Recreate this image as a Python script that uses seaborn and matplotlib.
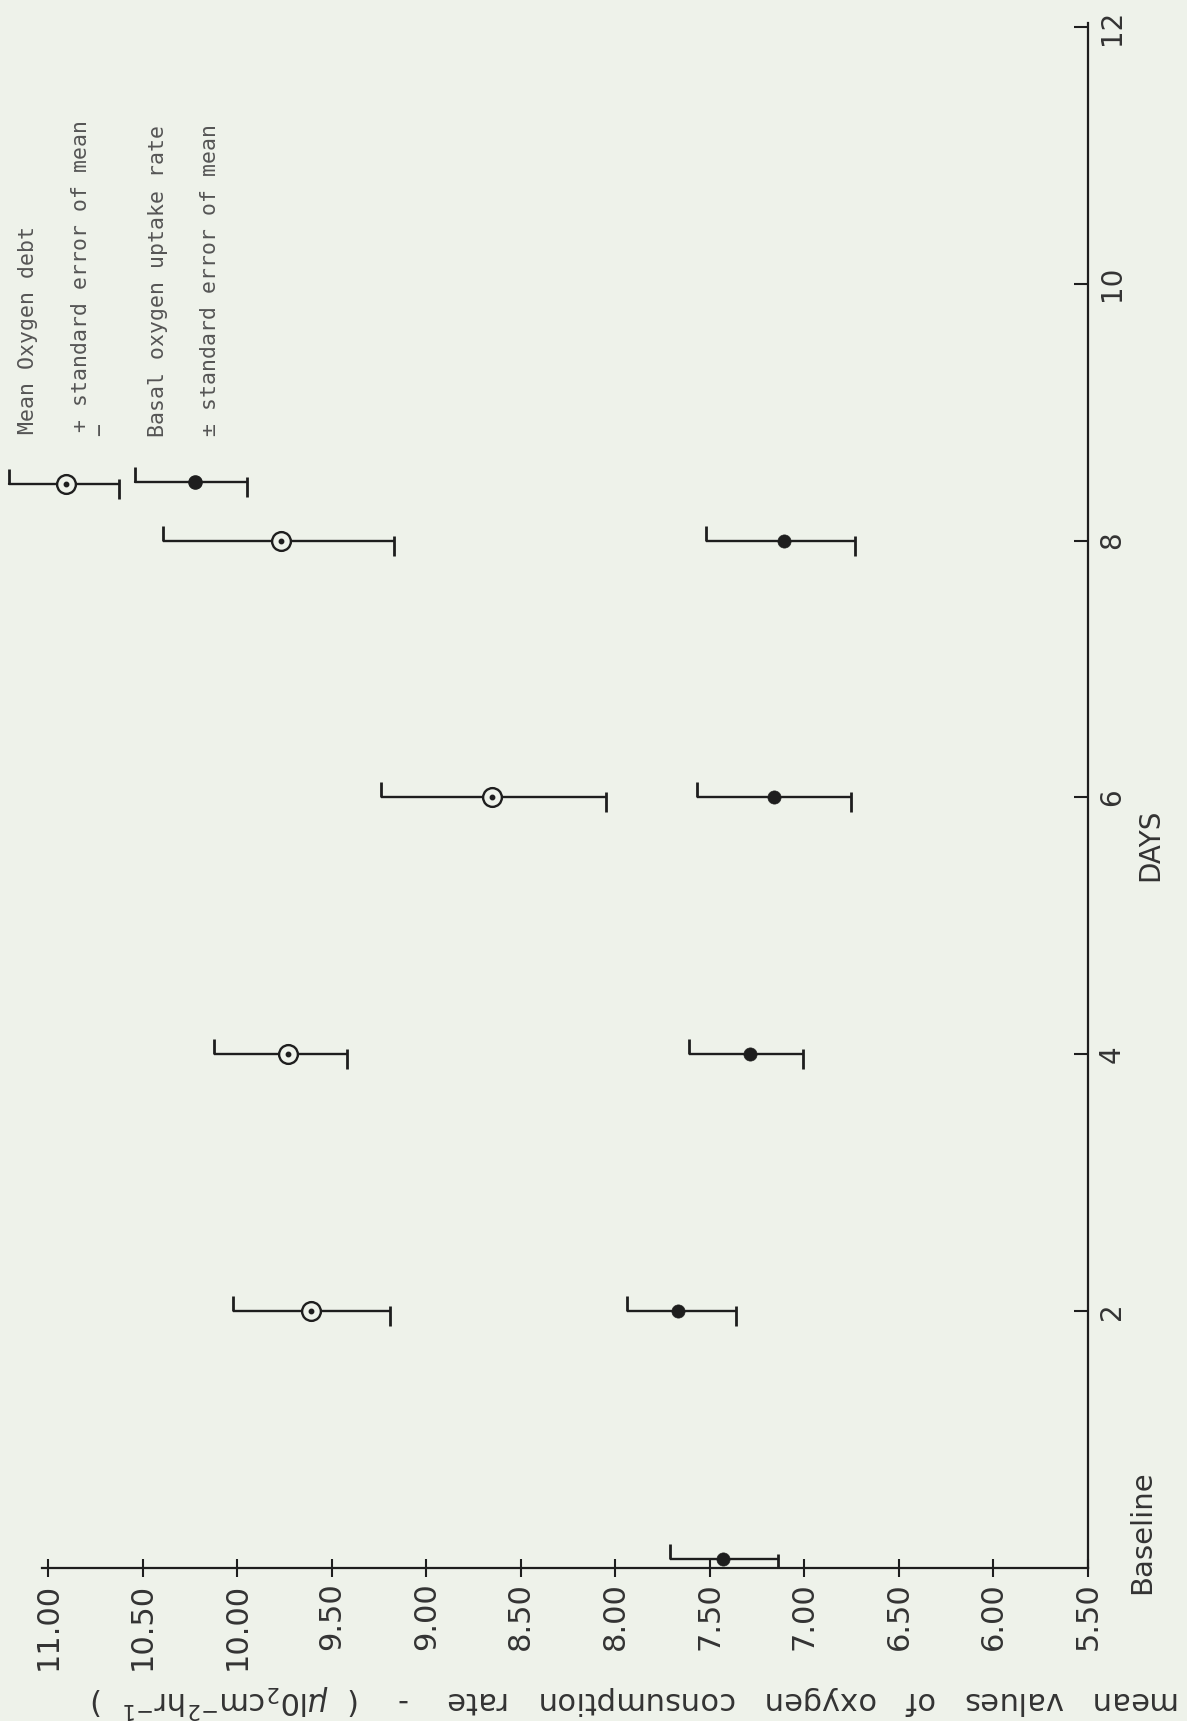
import matplotlib
matplotlib.use("Agg")
import matplotlib.pyplot as plt
import seaborn as sns
from matplotlib.path import Path

# ---------------- data ----------------
days_debt = [2, 4, 6, 8]
debt_mean = [9.61, 9.73, 8.65, 9.77]
debt_upper = [10.02, 10.12, 9.24, 10.39]
debt_lower = [9.19, 9.42, 8.05, 9.17]

days_basal = [0.07, 2, 4, 6, 8]
basal_mean = [7.43, 7.67, 7.29, 7.16, 7.11]
basal_upper = [7.71, 7.94, 7.61, 7.57, 7.52]
basal_lower = [7.14, 7.36, 7.01, 6.755, 6.73]

value_ticks = [11.0, 10.5, 10.0, 9.5, 9.0, 8.5, 8.0, 7.5, 7.0, 6.5, 6.0, 5.5]
value_tick_labels = ["11.00", "10.50", "10.00", "9.50", "9.00", "8.50",
                     "8.00", "7.50", "7.00", "6.50", "6.00", "5.50"]
day_ticks = [2, 4, 6, 8, 10, 12]
day_tick_labels = ["2", "4", "6", "8", "10", "12"]

value_label = ("mean   values   of   oxygen   consumption   rate    -    "
               "(  $\\mu$l0$_2$cm$^{-2}$hr$^{-1}$  )")
days_label = "DAYS"
baseline_label = "Baseline"
legend_debt = ["Mean Oxygen debt", "+ standard error of mean", "\u2212"]
legend_basal = ["Basal oxygen uptake rate", "\u00b1 standard error of mean"]

# ---------------- style ----------------
sns.set_style("ticks")
plt.rcParams["font.family"] = ["DejaVu Sans"]
BG = "#eef2ea"
INK = "#1e1e1e"
TXT = "#333333"
LEG = "#555555"

W, H = 1187, 1721
fig = plt.figure(figsize=(W / 100, H / 100), dpi=100, facecolor=BG)
ax = fig.add_axes([0.03564, 0.08890, 0.8810, 0.89768])
ax.set_facecolor(BG)

ax.set_xlim(11.03, 5.5)
ax.set_ylim(0, 12.03)

cap_up = Path([(0, 0), (0, 1)])
cap_down = Path([(0, 0.35), (0, -1)])
CAP_MS = 21.6
LW = 1.7


def error_bars(days, lower, upper):
    ax.hlines(days, lower, upper, color=INK, lw=LW, zorder=3)
    ax.plot(upper, days, ls="none", marker=cap_up, ms=CAP_MS,
            mew=LW + 0.3, mec=INK, zorder=3)
    ax.plot(lower, days, ls="none", marker=cap_down, ms=CAP_MS,
            mew=LW + 0.3, mec=INK, zorder=3)


error_bars(days_debt, debt_lower, debt_upper)
error_bars(days_basal, basal_lower, basal_upper)

sns.scatterplot(x=debt_mean, y=days_debt, ax=ax, s=13.5 ** 2, marker="o",
                facecolor=BG, edgecolor=INK, linewidth=1.7, zorder=5,
                legend=False)
ax.plot(debt_mean, days_debt, ls="none", marker="o", ms=3.2, color=INK,
        zorder=6)
sns.scatterplot(x=basal_mean, y=days_basal, ax=ax, s=90, marker="o",
                color=INK, edgecolor=INK, linewidth=0.5, zorder=5,
                legend=False)

# ---------------- axes ----------------
for side in ["top", "left"]:
    ax.spines[side].set_visible(False)
for side in ["bottom", "right"]:
    ax.spines[side].set_color(INK)
    ax.spines[side].set_linewidth(1.6)

ax.set_xticks(value_ticks, labels=value_tick_labels)
ax.tick_params(axis="x", direction="inout", length=13, width=1.5,
               color=INK, labelsize=22, labelcolor=TXT, labelrotation=90,
               pad=4)
ax.yaxis.tick_right()
ax.set_yticks(day_ticks, labels=day_tick_labels)
ax.tick_params(axis="y", direction="in", length=10, width=1.5, color=INK,
               labelsize=20, labelcolor=TXT, labelrotation=90, pad=7)
for lab in ax.get_yticklabels():
    lab.set_va("center")

ax.text(1.0593, 0.468, days_label, transform=ax.transAxes, rotation=90,
        ha="center", va="center", fontsize=20, color=TXT)
ax.text(1.052, 0.0233, baseline_label, transform=ax.transAxes, rotation=90,
        ha="center", va="center", fontsize=21, color=TXT)
fig.text(636 / W, 1 - 1701 / H, value_label, rotation=180, ha="center",
         va="center", fontsize=22, color=TXT)

# ---------------- legend (hand-drawn key, rotated layout) ----------------
def fx(px):
    return px / W


def fy(py):
    return 1 - py / H


def key(xl, xc, xr, y, open_marker):
    t = fig.transFigure
    ax.plot([fx(xl), fx(xr)], [fy(y), fy(y)], color=INK, lw=LW,
            transform=t, clip_on=False, zorder=3)
    ax.plot([fx(xl)], [fy(y)], marker=cap_up, ms=CAP_MS, mew=LW + 0.3,
            mec=INK, transform=t, clip_on=False, zorder=3)
    ax.plot([fx(xr)], [fy(y)], marker=cap_down, ms=CAP_MS, mew=LW + 0.3,
            mec=INK, transform=t, clip_on=False, zorder=3)
    if open_marker:
        ax.plot([fx(xc)], [fy(y)], marker="o", ms=13.5, mfc=BG, mec=INK,
                mew=1.7, transform=t, clip_on=False, zorder=5)
        ax.plot([fx(xc)], [fy(y)], marker="o", ms=3.2, color=INK,
                transform=t, clip_on=False, zorder=6)
    else:
        ax.plot([fx(xc)], [fy(y)], marker="o", ms=9.5, color=INK,
                transform=t, clip_on=False, zorder=5)


key(9, 66, 119, 484, True)
key(135, 195, 247, 482, False)

mono = dict(family=["DejaVu Sans Mono", "DejaVu Sans"], fontsize=15.5,
            color=LEG, rotation=90, rotation_mode="anchor", ha="left",
            va="baseline")
fig.text(fx(34), fy(434), legend_debt[0], **mono)
fig.text(fx(87), fy(432), legend_debt[1], **mono)
fig.text(fx(100), fy(430), legend_debt[2], family=["DejaVu Sans Mono"],
         fontsize=15.5, color=LEG, rotation=90, ha="center", va="center")
fig.text(fx(164), fy(437), legend_basal[0], **mono)
fig.text(fx(216), fy(436), legend_basal[1], **mono)

fig.savefig("out.png", dpi=100, facecolor=BG)
